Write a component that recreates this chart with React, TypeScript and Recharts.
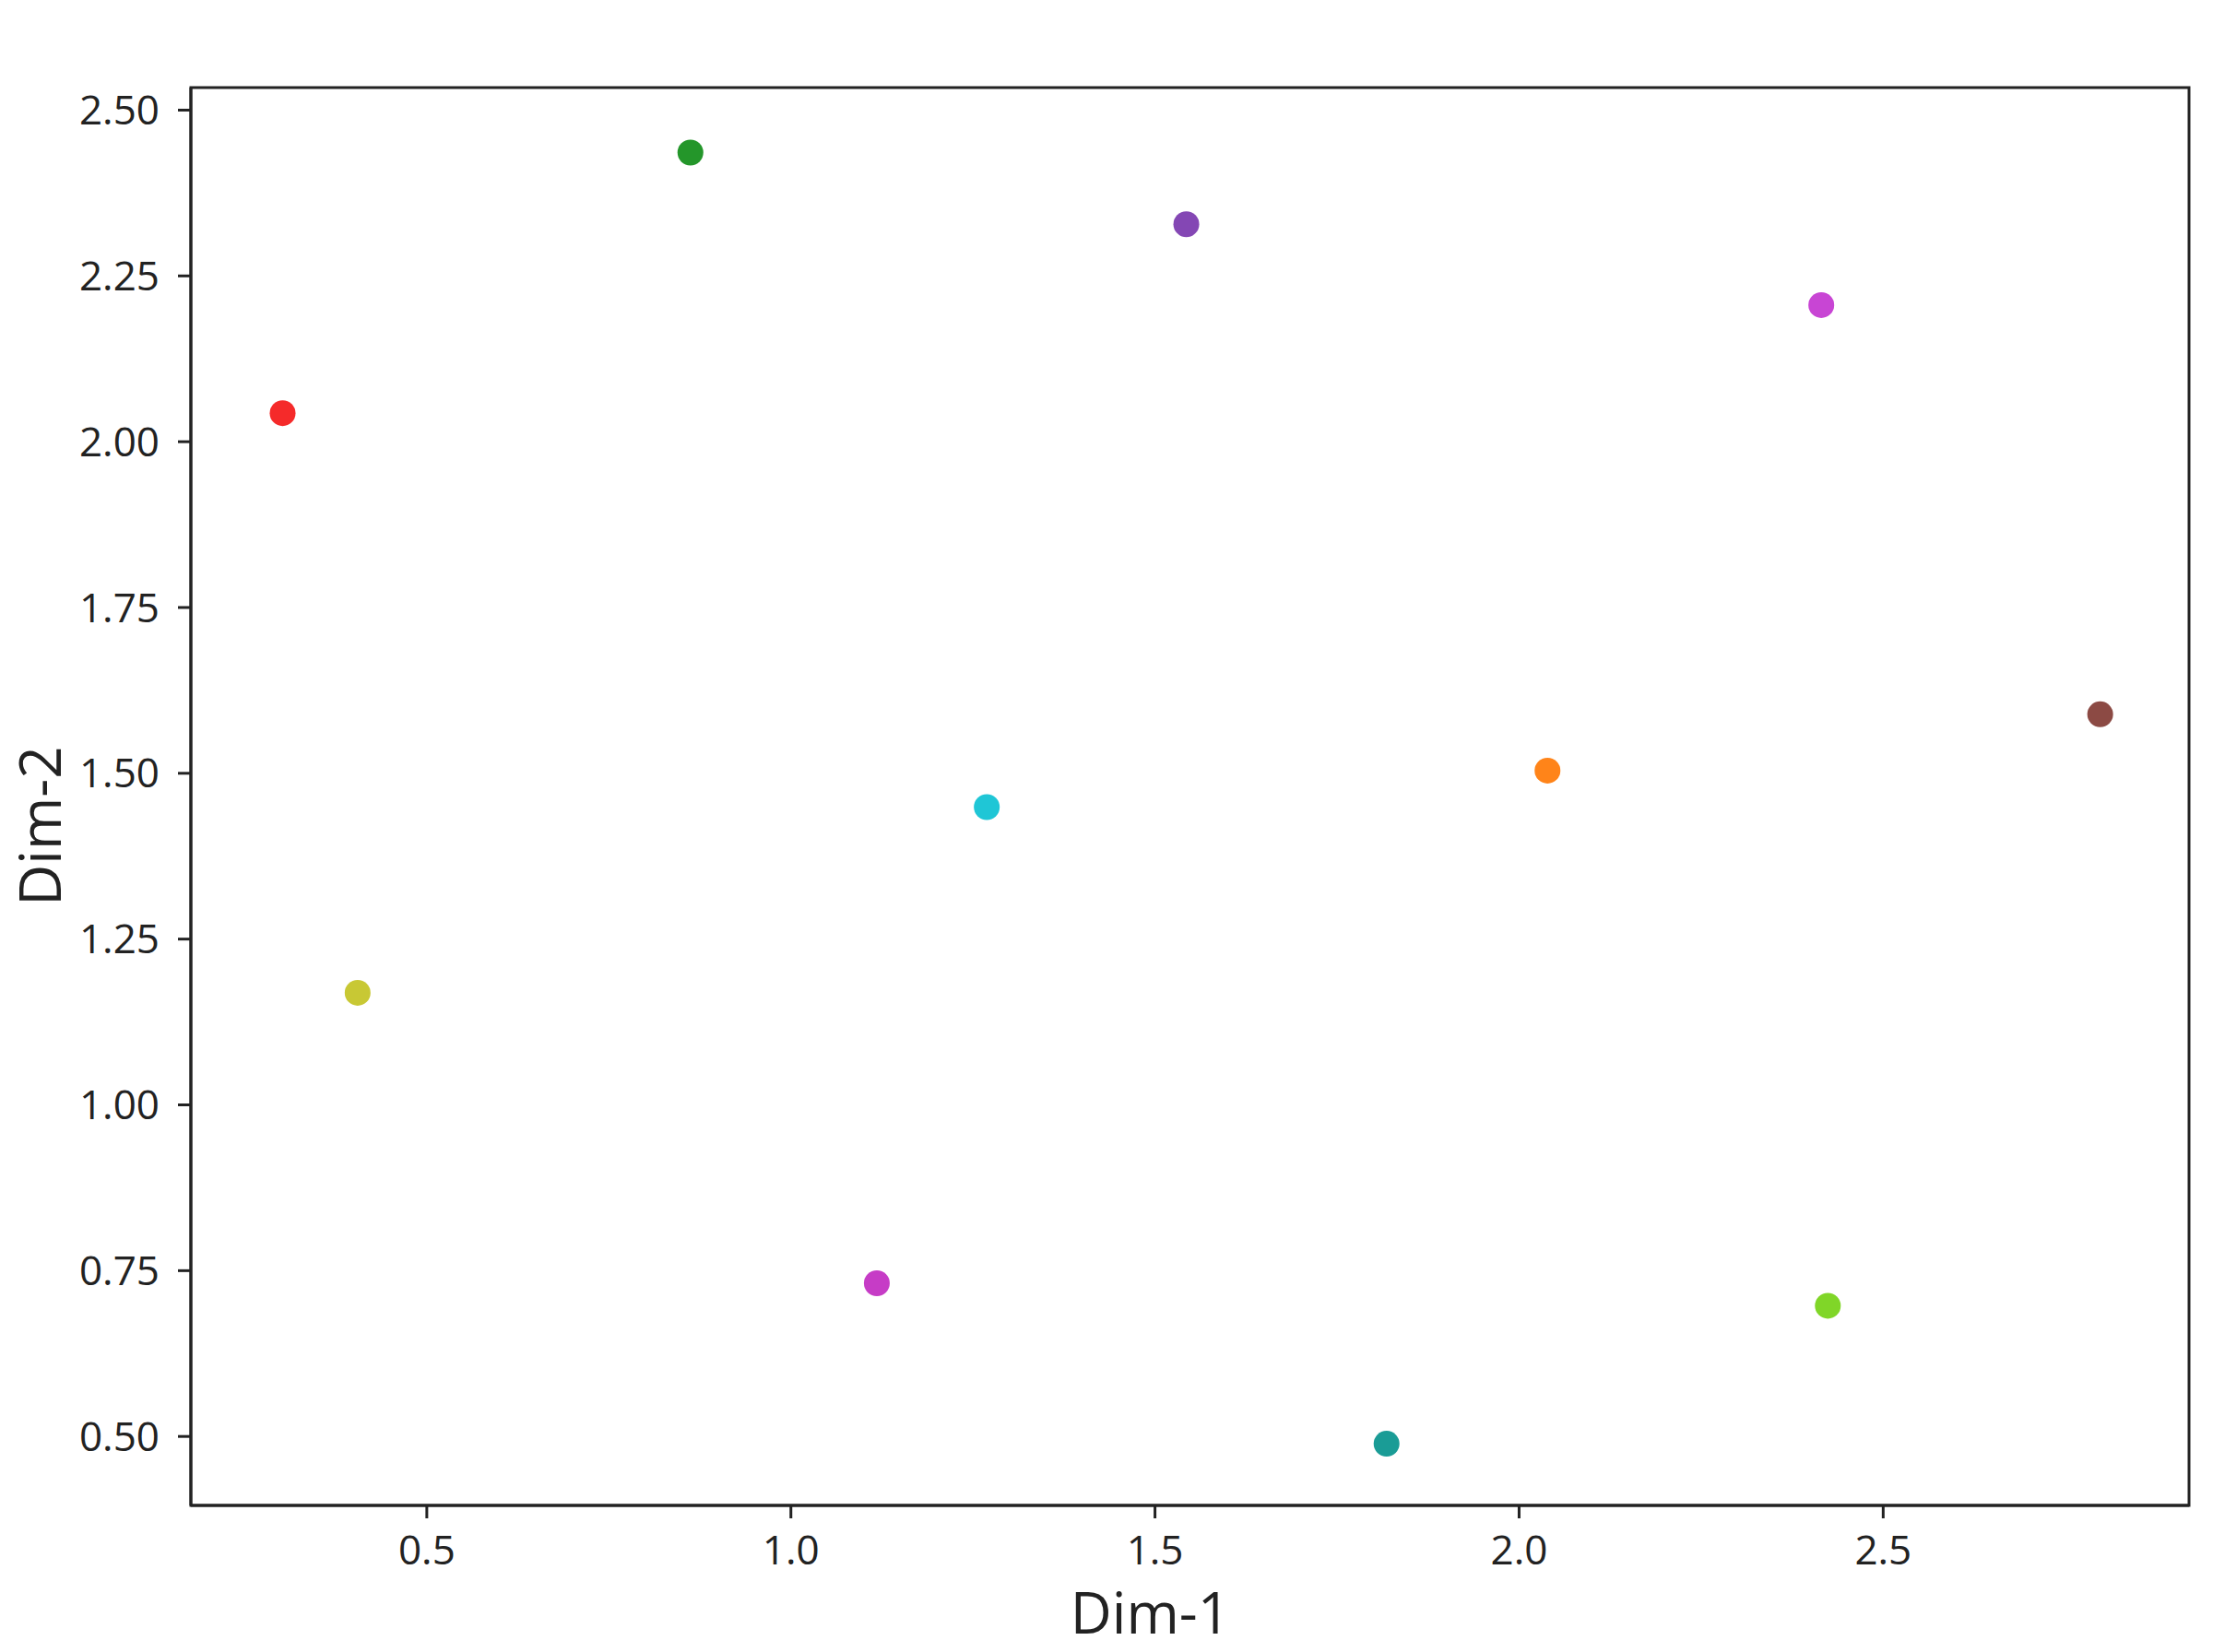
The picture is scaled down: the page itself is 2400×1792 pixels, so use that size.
import { ScatterChart, Scatter, XAxis, YAxis, ReferenceArea } from 'recharts'

// embedding coordinates of each item
const names = ['a', 'b', 'c', 'd', 'e', 'f', 'g', 'h', 'i', 'j', 'k']
const dim1 = [0.302, 0.862, 1.543, 2.415, 2.798, 2.039, 1.269, 0.405, 1.118, 2.424, 1.818]
const dim2 = [2.043, 2.436, 2.328, 2.206, 1.589, 1.504, 1.449, 1.169, 0.731, 0.697, 0.489]
const colors = [
  '#f52a2a', '#24962a', '#8447b4', '#c845d4', '#8c4a44', '#ff8419',
  '#1fc6d6', '#c8c834', '#c63cc6', '#80d628', '#1a9c96',
]

const xTicks = [0.5, 1.0, 1.5, 2.0, 2.5]
const yTicks = [0.5, 0.75, 1.0, 1.25, 1.5, 1.75, 2.0, 2.25, 2.5]
const xDomain = [0.176, 2.92]
const yDomain = [0.396, 2.534]

const points = names.map((name, i) => ({ name, x: dim1[i], y: dim2[i], color: colors[i] }))

const FONT = '"Open Sans", "Noto Sans", sans-serif'
const INK = '#222222'

const Dot = (props: any) => (
  <circle cx={props.cx} cy={props.cy} r={14} fill={props.payload.color} />
)

export default function App() {
  return (
    <div style={{ position: 'absolute', left: 0, top: 0, background: '#fff', fontFamily: FONT }}>
      <ScatterChart
        width={2400}
        height={1792}
        margin={{ top: 95, right: 26, left: 0, bottom: 0 }}
      >
        <XAxis
          type="number"
          dataKey="x"
          domain={xDomain}
          allowDataOverflow
          ticks={xTicks}
          tickFormatter={(v) => v.toFixed(1)}
          height={159}
          tickSize={14}
          tickMargin={19}
          tick={{ fill: INK, fontSize: 44, fontFamily: FONT }}
          axisLine={{ stroke: INK, strokeWidth: 3 }}
          tickLine={{ stroke: INK, strokeWidth: 3 }}
          label={{ value: 'Dim-1', position: 'insideBottom', offset: 20, dx: -43, fontSize: 62, fill: INK, fontFamily: FONT }}
        />
        <YAxis
          type="number"
          dataKey="y"
          domain={yDomain}
          allowDataOverflow
          ticks={yTicks}
          tickFormatter={(v) => v.toFixed(2)}
          width={207}
          tickSize={14}
          tickMargin={20}
          tick={{ fill: INK, fontSize: 44, fontFamily: FONT }}
          axisLine={{ stroke: INK, strokeWidth: 3 }}
          tickLine={{ stroke: INK, strokeWidth: 3 }}
          label={{ value: 'Dim-2', angle: -90, position: 'insideLeft', offset: 44, dy: 32, fontSize: 62, fill: INK, fontFamily: FONT, style: { textAnchor: 'middle' } }}
        />
        <ReferenceArea
          x1={xDomain[0]}
          x2={xDomain[1]}
          y1={yDomain[0]}
          y2={yDomain[1]}
          fill="none"
          stroke={INK}
          strokeWidth={3}
          ifOverflow="visible"
        />
        <Scatter data={points} shape={Dot} isAnimationActive={false} />
      </ScatterChart>
    </div>
  )
}
